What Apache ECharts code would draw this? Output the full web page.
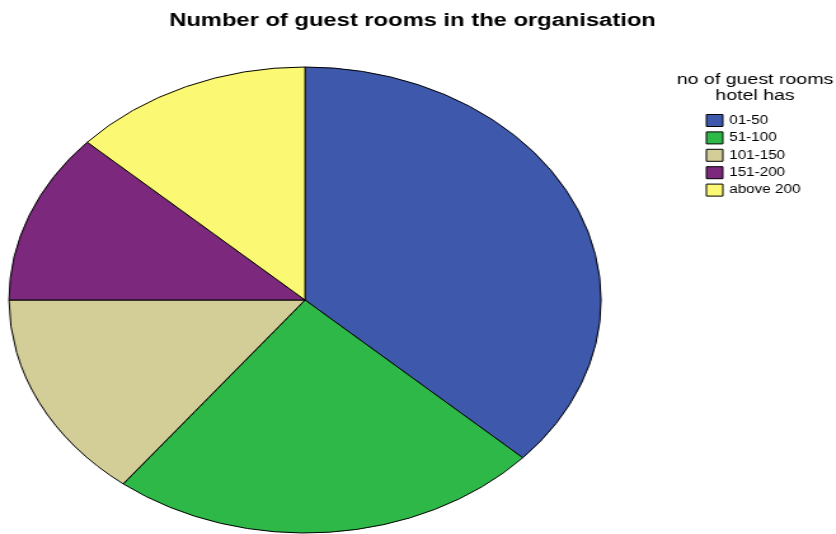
<!DOCTYPE html>
<html>
<head>
<meta charset="utf-8">
<style>
  html, body { margin: 0; padding: 0; background: #fff; overflow: hidden; }
  #wrap { width: 836px; height: 534px; overflow: hidden; }
  /* chart is laid out at a narrower width and widened, giving the oval pie */
  #chart { width: 658px; height: 534px; transform: scaleX(1.2704); transform-origin: 0 0; }
</style>
<script src="https://cdn.jsdelivr.net/npm/echarts@6/dist/echarts.min.js"></script>
</head>
<body>
<div id="wrap"><div id="chart"></div></div>
<script>
// Hotels grouped by number of guest rooms
const roomBands = ['01-50', '51-100', '101-150', '151-200', 'above 200'];
const hotelCounts = [28, 18, 11, 9, 10];
const bandColors = ['#3E58AC', '#2EB848', '#D3CE97', '#7C287D', '#FBF873'];

const font = '"Liberation Sans", Arial, Helvetica, sans-serif';
const chart = echarts.init(document.getElementById('chart'), null, { renderer: 'canvas' });

chart.setOption({
  animation: false,
  backgroundColor: '#fff',
  title: [
    {
      text: 'Number of guest rooms in the organisation',
      left: 324.7,
      top: 11,
      padding: 0,
      textAlign: 'center',
      textStyle: { fontFamily: font, fontSize: 18.7, fontWeight: 'bold', color: '#000' }
    },
    {
      text: 'no of guest rooms\nhotel has',
      left: 594.3,
      top: 72,
      padding: 0,
      textAlign: 'center',
      textStyle: { fontFamily: font, fontSize: 15.4, fontWeight: 'normal', color: '#000', lineHeight: 16 }
    }
  ],
  legend: {
    orient: 'vertical',
    left: 555.5,
    top: 114,
    padding: 0,
    itemWidth: 13,
    itemHeight: 12,
    itemGap: 4.4,
    icon: 'rect',
    selectedMode: false,
    data: roomBands,
    itemStyle: { borderColor: '#000', borderWidth: 1 },
    textStyle: { fontFamily: font, fontSize: 12, color: '#000', padding: [0, 0, 0, 0] }
  },
  color: bandColors,
  series: [
    {
      type: 'pie',
      center: [240.1, 300],
      radius: 233,
      startAngle: 90,
      clockwise: true,
      label: { show: false },
      labelLine: { show: false },
      emphasis: { disabled: true },
      silent: true,
      itemStyle: { borderColor: '#000', borderWidth: 1 },
      data: roomBands.map((name, i) => ({ name: name, value: hotelCounts[i] }))
    }
  ]
});
</script>
</body>
</html>
